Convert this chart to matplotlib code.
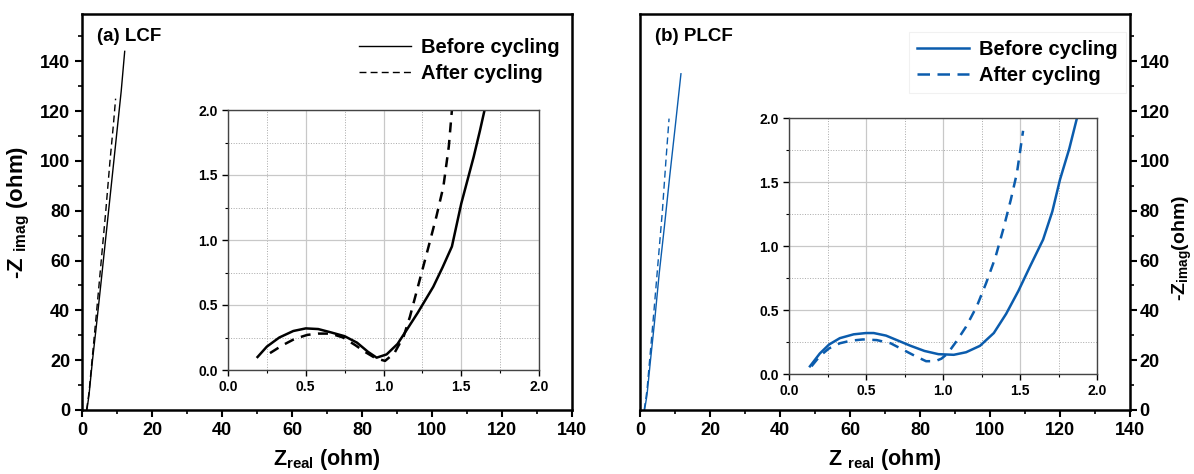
import matplotlib
matplotlib.use('Agg')
from matplotlib import pyplot as plt
from matplotlib.ticker import MultipleLocator

plt.rcParams['font.family'] = ['Liberation Sans', 'DejaVu Sans']
plt.rcParams['font.weight'] = 'bold'
plt.rcParams['mathtext.fontset'] = 'custom'
plt.rcParams['mathtext.rm'] = 'Liberation Sans:bold'
plt.rcParams['mathtext.bf'] = 'Liberation Sans:bold'
plt.rcParams['mathtext.default'] = 'bf'

# main panel data (ohm)
lcf_before_x = [1.4, 2.0, 3.0, 4.2, 5.5, 7.0, 8.5, 10.0, 11.2, 12.2]
lcf_before_y = [0, 6, 20, 35, 52, 72, 92, 112, 128, 144]
lcf_after_x = [1.3, 2.0, 3.0, 4.2, 5.5, 6.8, 8.0, 9.0, 9.6]
lcf_after_y = [0, 7, 22, 40, 60, 80, 100, 115, 125]

plcf_before_x = [1.3, 2.0, 3.0, 4.2, 5.5, 7.0, 8.5, 10.0, 11.7]
plcf_before_y = [0, 6, 20, 36, 55, 74, 94, 113, 135]
plcf_after_x = [1.2, 2.0, 3.0, 4.0, 5.2, 6.4, 7.4, 8.3]
plcf_after_y = [0, 8, 24, 40, 60, 80, 100, 117]

# inset data (ohm)
lcf_in_before_x = [0.19, 0.25, 0.33, 0.42, 0.50, 0.58, 0.66, 0.75, 0.83, 0.90, 0.956,
                   1.02, 1.09, 1.15, 1.22, 1.28, 1.32, 1.38, 1.44, 1.50, 1.54, 1.58, 1.62, 1.65]
lcf_in_before_y = [0.10, 0.18, 0.25, 0.30, 0.32, 0.315, 0.29, 0.26, 0.21, 0.14, 0.095,
                   0.12, 0.20, 0.31, 0.44, 0.56, 0.64, 0.79, 0.95, 1.28, 1.46, 1.64, 1.84, 2.0]
lcf_in_after_x = [0.27, 0.35, 0.43, 0.51, 0.58, 0.66, 0.74, 0.82, 0.88, 0.95, 1.01,
                  1.07, 1.13, 1.17, 1.21, 1.25, 1.29, 1.34, 1.385, 1.42, 1.44]
lcf_in_after_y = [0.13, 0.19, 0.24, 0.27, 0.28, 0.28, 0.25, 0.19, 0.14, 0.09, 0.07,
                  0.13, 0.26, 0.41, 0.59, 0.77, 0.95, 1.18, 1.41, 1.72, 2.0]

plcf_in_before_x = [0.136, 0.20, 0.26, 0.33, 0.42, 0.50, 0.55, 0.63, 0.71, 0.79, 0.88,
                    0.97, 1.07, 1.15, 1.24, 1.33, 1.41, 1.49, 1.565, 1.65, 1.71, 1.76, 1.82, 1.87]
plcf_in_before_y = [0.06, 0.16, 0.23, 0.28, 0.31, 0.32, 0.32, 0.30, 0.26, 0.22, 0.18,
                    0.155, 0.15, 0.17, 0.22, 0.32, 0.47, 0.65, 0.84, 1.05, 1.27, 1.52, 1.76, 2.0]
plcf_in_after_x = [0.146, 0.20, 0.26, 0.33, 0.40, 0.48, 0.57, 0.66, 0.74, 0.82, 0.89,
                   0.95, 0.99, 1.03, 1.09, 1.15, 1.22, 1.28, 1.34, 1.39, 1.44, 1.48, 1.52]
plcf_in_after_y = [0.06, 0.14, 0.20, 0.24, 0.26, 0.27, 0.265, 0.24, 0.19, 0.14, 0.10,
                   0.10, 0.12, 0.16, 0.26, 0.37, 0.53, 0.71, 0.91, 1.125, 1.36, 1.57, 1.9]

blue = '#0b5cad'
W, H = 1194, 474
fig = plt.figure(figsize=(W / 100, H / 100), dpi=100)


def fig_box(x0, x1, ytop, ybot):
    return [x0 / W, 1 - ybot / H, (x1 - x0) / W, (ybot - ytop) / H]


def style_main(ax):
    ax.set_xlim(0, 140)
    ax.set_ylim(0, 159)
    ax.xaxis.set_major_locator(MultipleLocator(20))
    ax.xaxis.set_minor_locator(MultipleLocator(10))
    ax.yaxis.set_major_locator(MultipleLocator(20))
    ax.yaxis.set_minor_locator(MultipleLocator(10))
    ax.tick_params(which='major', direction='out', length=5, width=1.5, labelsize=13)
    ax.tick_params(which='minor', direction='out', length=3, width=1.2)
    for s in ax.spines.values():
        s.set_linewidth(1.8)


def style_inset(ax):
    ax.set_xlim(0, 2)
    ax.set_ylim(0, 2)
    ax.xaxis.set_major_locator(MultipleLocator(0.5))
    ax.xaxis.set_minor_locator(MultipleLocator(0.25))
    ax.yaxis.set_major_locator(MultipleLocator(0.5))
    ax.yaxis.set_minor_locator(MultipleLocator(0.25))
    ax.tick_params(which='major', direction='out', length=4, width=1.0, labelsize=10)
    ax.tick_params(which='minor', direction='out', length=2, width=0.8)
    ax.grid(which='major', color='#c8c8c8', lw=0.9)
    ax.grid(which='minor', color='#a8a8a8', lw=0.7, ls=':')
    ax.set_axisbelow(True)
    for s in ax.spines.values():
        s.set_linewidth(1.0)
        s.set_color('#444444')


# (a) LCF
ax1 = fig.add_axes(fig_box(82, 572, 14, 410))
style_main(ax1)
ax1.plot(lcf_before_x, lcf_before_y, color='black', lw=1.0, label='Before cycling')
ax1.plot(lcf_after_x, lcf_after_y, color='black', lw=1.0, ls=(0, (5, 3)), label='After cycling')
ax1.text(0.03, 0.965, '(a) LCF', transform=ax1.transAxes, fontsize=13.5, fontweight='bold', va='top')
ax1.set_xlabel('Z$_{real}$ (ohm)', fontsize=15.5, fontweight='bold', labelpad=6)
ax1.set_ylabel('-Z $_{imag}$ (ohm)', fontsize=16, fontweight='bold', labelpad=6)
ax1.legend(loc='upper right', bbox_to_anchor=(1.0, 0.97), frameon=False, fontsize=14.5,
           handlelength=2.6, handletextpad=0.5, borderaxespad=0.2, labelspacing=0.35)

ins1 = fig.add_axes(fig_box(228, 539, 110, 370))
style_inset(ins1)
ins1.plot(lcf_in_before_x, lcf_in_before_y, color='black', lw=1.8)
ins1.plot(lcf_in_after_x, lcf_in_after_y, color='black', lw=1.8, ls=(0, (4, 3)))

# (b) PLCF
ax2 = fig.add_axes(fig_box(640, 1130, 14, 410))
style_main(ax2)
ax2.yaxis.tick_right()
ax2.tick_params(axis='y', which='major', pad=2)
ax2.plot(plcf_before_x, plcf_before_y, color=blue, lw=1.0, label='Before cycling')
ax2.plot(plcf_after_x, plcf_after_y, color=blue, lw=1.0, ls=(0, (5, 3)), label='After cycling')
ax2.text(0.03, 0.965, '(b) PLCF', transform=ax2.transAxes, fontsize=13.5, fontweight='bold', va='top')
ax2.set_xlabel('Z $_{real}$ (ohm)', fontsize=15.5, fontweight='bold', labelpad=6)
fig.text(1182 / W, 1 - 248 / H, '-Z$_{imag}$(ohm)', fontsize=14, fontweight='bold',
         rotation=90, ha='center', va='center')
leg2 = ax2.legend(loc='upper right', bbox_to_anchor=(1.0, 0.965), frameon=True, fontsize=14.5,
                  handlelength=2.6, handletextpad=0.5, borderaxespad=0.2, labelspacing=0.35,
                  fancybox=False, edgecolor='#eeeeee')
leg2.get_frame().set_linewidth(0.8)
for line in leg2.get_lines():
    line.set_linewidth(1.8)

ins2 = fig.add_axes(fig_box(789, 1097, 118, 374))
style_inset(ins2)
ins2.plot(plcf_in_before_x, plcf_in_before_y, color=blue, lw=1.8)
ins2.plot(plcf_in_after_x, plcf_in_after_y, color=blue, lw=1.8, ls=(0, (4, 3)))

fig.savefig('out.png', dpi=100)
